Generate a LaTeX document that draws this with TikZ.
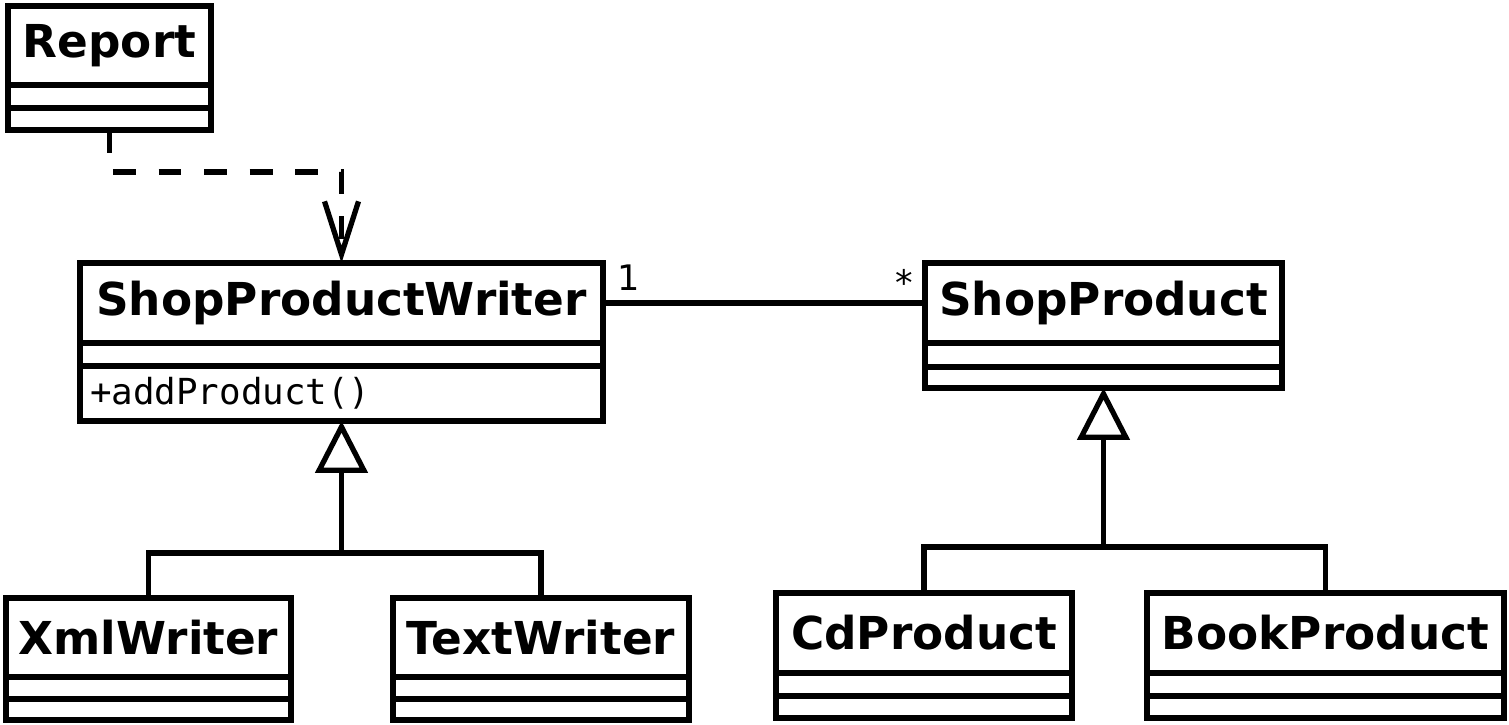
\documentclass[tikz,border=0pt]{standalone}
\usepackage{fontspec}
\setmainfont{DejaVu Sans}
\setmonofont{DejaVu Sans Mono}
\usetikzlibrary{positioning, arrows.meta, calc}

\begin{document}
\begin{tikzpicture}[
    umlname/.style={draw, line width=1.5pt, outer sep=0pt, inner sep=0pt, minimum height=0.80cm,
        font=\fontsize{12.9}{15}\selectfont\bfseries, anchor=north west},
    umlpart/.style={draw, line width=1.5pt, outer sep=0pt, inner sep=0pt},
    mult/.style={inner sep=0pt, font=\fontsize{10}{12}\selectfont},
    assoc/.style={line width=1.5pt},
    genline/.style={line width=1.5pt},
    inherit/.style={line width=1.5pt, -{Triangle[open, length=5.2mm, width=5.2mm]}},
    dep/.style={line width=1.5pt, dash pattern=on 0.23cm off 0.225cm, -{Straight Barb[length=5.3mm, width=3.4mm]}}
]
    \useasboundingbox (0,0) rectangle (15.09,7.25);

    % === Report ===
    \node[umlname, minimum width=2.03cm, minimum height=0.79cm] (report) at (0.08,7.19) {Report};
    \node[umlpart, minimum width=2.03cm, minimum height=0.23cm, below=0pt of report] (report-atts) {};
    \node[umlpart, minimum width=2.03cm, minimum height=0.22cm, below=0pt of report-atts] (report-ops) {};

    % === ShopProductWriter ===
    \node[umlname, minimum width=5.23cm] (spw) at (0.80,4.62) {ShopProductWriter};
    \node[umlpart, minimum width=5.23cm, minimum height=0.23cm, below=0pt of spw] (spw-atts) {};
    \node[umlpart, minimum width=5.23cm, minimum height=0.55cm, below=0pt of spw-atts,
        text width=5.03cm, align=left, font=\ttfamily\fontsize{10.2}{12}\selectfont] (spw-ops) {+addProduct()};

    % === ShopProduct ===
    \node[umlname, minimum width=3.57cm] (sp) at (9.25,4.62) {ShopProduct};
    \node[umlpart, minimum width=3.57cm, minimum height=0.24cm, below=0pt of sp] (sp-atts) {};
    \node[umlpart, minimum width=3.57cm, minimum height=0.21cm, below=0pt of sp-atts] (sp-ops) {};

    % === Writer subclasses ===
    \node[umlname, minimum width=2.85cm, minimum height=0.79cm] (xml) at (0.06,1.27) {XmlWriter};
    \node[umlpart, minimum width=2.85cm, minimum height=0.22cm, below=0pt of xml] (xml-atts) {};
    \node[umlpart, minimum width=2.85cm, minimum height=0.21cm, below=0pt of xml-atts] (xml-ops) {};

    \node[umlname, minimum width=2.96cm, minimum height=0.79cm] (text) at (3.93,1.27) {TextWriter};
    \node[umlpart, minimum width=2.96cm, minimum height=0.22cm, below=0pt of text] (text-atts) {};
    \node[umlpart, minimum width=2.96cm, minimum height=0.21cm, below=0pt of text-atts] (text-ops) {};

    % === Product subclasses ===
    \node[umlname, minimum width=2.96cm] (cd) at (7.76,1.32) {CdProduct};
    \node[umlpart, minimum width=2.96cm, minimum height=0.23cm, below=0pt of cd] (cd-atts) {};
    \node[umlpart, minimum width=2.96cm, minimum height=0.22cm, below=0pt of cd-atts] (cd-ops) {};

    \node[umlname, minimum width=3.57cm] (book) at (11.47,1.32) {BookProduct};
    \node[umlpart, minimum width=3.57cm, minimum height=0.23cm, below=0pt of book] (book-atts) {};
    \node[umlpart, minimum width=3.57cm, minimum height=0.22cm, below=0pt of book-atts] (book-ops) {};

    % === Dependency Report -> ShopProductWriter ===
    \coordinate (depbend) at (0,5.53);
    \draw[dep] (report-ops.south) |- (spw.north |- depbend) -- (spw.north);

    % === Association ===
    \draw[assoc] (spw.east) -- (sp.west);
    \node[mult, anchor=south west, xshift=0.14cm, yshift=0.12cm] (one) at (spw.east) {1};
    \node[mult, anchor=south east, xshift=-0.11cm, yshift=0.07cm] (many) at (sp.west) {*};

    % === Generalisations ===
    \coordinate (busl) at (0,1.72);
    \coordinate (jl) at (spw-ops.south |- busl);
    \draw[genline] (xml.north) |- (jl) -| (text.north);
    \draw[inherit] (jl) -- (spw-ops.south);

    \coordinate (busr) at (0,1.78);
    \coordinate (jr) at (sp-ops.south |- busr);
    \draw[genline] (cd.north) |- (jr) -| (book.north);
    \draw[inherit] (jr) -- (sp-ops.south);

\end{tikzpicture}
\end{document}
